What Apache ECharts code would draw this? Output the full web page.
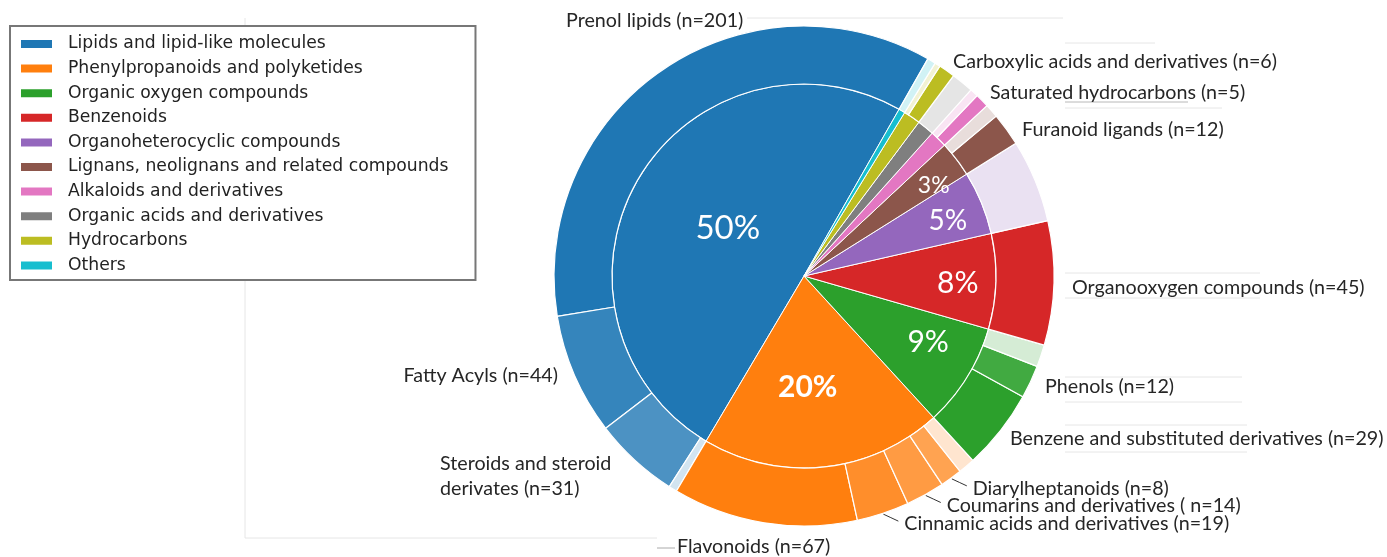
<!DOCTYPE html>
<html>
<head>
<meta charset="utf-8">
<title>Compound classes</title>
<script src="https://cdn.jsdelivr.net/npm/echarts@6/dist/echarts.min.js"></script>
<style>
  html, body { margin: 0; padding: 0; background: #fff; }
  #chart { width: 1387px; height: 557px; }
</style>
</head>
<body>
<div id="chart"></div>
<script>
// superclasses (inner pie)
const classNames = [
  'Lipids and lipid-like molecules',
  'Phenylpropanoids and polyketides',
  'Organic oxygen compounds',
  'Benzenoids',
  'Organoheterocyclic compounds',
  'Lignans, neolignans and related compounds',
  'Alkaloids and derivatives',
  'Organic acids and derivatives',
  'Hydrocarbons',
  'Others'
];
const classColors = ['#1f77b4', '#ff7f0e', '#2ca02c', '#d62728', '#9467bd',
  '#8c564b', '#e377c2', '#7f7f7f', '#bcbd22', '#17becf'];

// subclasses (outer ring), in drawing order
const subNames = [
  'Prenol lipids', 'Fatty Acyls', 'Steroids and steroid derivates', 'Other lipids',
  'Flavonoids', 'Cinnamic acids and derivatives', 'Coumarins and derivatives', 'Diarylheptanoids', 'Other phenylpropanoids',
  'Benzene and substituted derivatives', 'Phenols', 'Other oxygen compounds',
  'Organooxygen compounds',
  'Other organoheterocyclic',
  'Furanoid ligands', 'Other lignans',
  'Saturated hydrocarbons', 'Other alkaloids',
  'Other organic acids',
  'Carboxylic acids and derivatives', 'Other hydrocarbons',
  'Other others'
];
const subValues = [201, 44, 31, 3, 67, 19, 14, 8, 6, 29, 12, 8, 45, 30, 12, 5, 5, 3, 8, 6, 2, 3];
const subClass  = [0, 0, 0, 0, 1, 1, 1, 1, 1, 2, 2, 2, 3, 4, 5, 5, 6, 6, 7, 8, 8, 9];
const subLabels = [
  'Prenol lipids (n=201)', 'Fatty Acyls (n=44)', 'Steroids and steroid\nderivates (n=31)', '',
  'Flavonoids (n=67)', 'Cinnamic acids and derivatives (n=19)', 'Coumarins and derivatives ( n=14)', 'Diarylheptanoids (n=8)', '',
  'Benzene and substituted derivatives (n=29)', 'Phenols (n=12)', '',
  'Organooxygen compounds (n=45)',
  '',
  'Furanoid ligands (n=12)', '',
  'Saturated hydrocarbons (n=5)', '',
  '',
  'Carboxylic acids and derivatives (n=6)', '',
  ''
];

// ---- styling / layout ----
const subAlpha = [1, 0.9, 0.8, 0.2, 1, 0.88, 0.78, 0.72, 0.2, 1, 0.9, 0.2, 1, 0.2, 1, 0.2, 1, 0.2, 0.2, 1, 0.2, 0.2];
const CX = 804, CY = 276, R0 = 192, R1 = 250, START = 60.3;
const pctRadius = [90, 111, 141, 154, 154, 158];
const pctShift = [-2, -4, 3.5, -1, -1.4, -2.7];
const pctSize = [33, 30, 30, 30, 28, 23];
const leaderItems = [5, 6, 7];
// left/right anchor of each outer label: [x, y, align]
const labelPos = {
  0: [566, 21, 'left'],
  1: [558, 376, 'right'],
  2: [440, 476, 'left'],
  4: [677, 547, 'left'],
  9: [1010, 439, 'left'],
  10: [1045, 387, 'left'],
  12: [1072, 288, 'left'],
  14: [1022, 130, 'left'],
  16: [990, 93, 'left'],
  19: [953, 62, 'left']
};

function blend(hex, a) {
  const n = parseInt(hex.slice(1), 16);
  const c = [n >> 16, (n >> 8) & 255, n & 255].map(v => Math.round(v * a + 255 * (1 - a)));
  return 'rgb(' + c.join(',') + ')';
}

const classValues = classNames.map((_, k) =>
  subValues.reduce((s, v, i) => s + (subClass[i] === k ? v : 0), 0));
const total = subValues.reduce((a, b) => a + b, 0);

function midAngles(values) {
  let cum = 0;
  return values.map(v => {
    const m = START + (cum + v / 2) / total * 360;
    cum += v;
    return m;
  });
}
const classMid = midAngles(classValues);
const subMid = midAngles(subValues);

const innerData = classNames.map((name, i) => {
  const pct = classValues[i] / total * 100;
  return {
    name: name,
    value: classValues[i],
    itemStyle: { color: classColors[i] },
    label: {
      show: pct >= 2.5,
      fontSize: pctSize[i] || 20,
      fontWeight: i === 1 ? 'bold' : 'normal'
    }
  };
});

const outerData = subNames.map((name, i) => ({
  name: name,
  value: subValues[i],
  itemStyle: { color: blend(classColors[subClass[i]], subAlpha[i]) },
  label: { show: subLabels[i] !== '' },
  labelLine: { show: leaderItems.indexOf(i) >= 0 }
}));

const faintLines = [
  [245, 18, 245, 538], [245, 538, 657, 538], [747, 18, 1063, 18],
  [1065, 43, 1155, 43], [1065, 108, 1222, 108],
  [1065, 273, 1260, 273], [1065, 298, 1260, 298],
  [1065, 377, 1242, 377], [1065, 402, 1242, 402],
  [1065, 425, 1247, 425], [1065, 452, 1247, 452]
];

const chart = echarts.init(document.getElementById('chart'));
const option = {
  animation: false,
  backgroundColor: '#fff',
  graphic: faintLines.map(l => ({
    type: 'line', silent: true, z: -10,
    shape: { x1: l[0], y1: l[1], x2: l[2], y2: l[3] },
    style: { stroke: '#e6e6e6', lineWidth: 1 }
  })).concat([{
    type: 'line', silent: true, z: -10,
    shape: { x1: 1065, y1: 102, x2: 1188, y2: 102 },
    style: { stroke: '#b8b8b8', lineWidth: 1 }
  }, {
    type: 'line', silent: true, z: -10,
    shape: { x1: 657, y1: 548, x2: 675, y2: 548 },
    style: { stroke: '#aaa', lineWidth: 1 }
  }]),
  legend: {
    data: classNames,
    orient: 'vertical',
    left: 10,
    top: 26,
    icon: 'rect',
    itemWidth: 33,
    itemHeight: 10,
    itemGap: 7.6,
    padding: [9.5, 27, 6, 9],
    borderColor: '#777',
    borderWidth: 2,
    backgroundColor: '#fff',
    selectedMode: false,
    textStyle: { fontFamily: 'DejaVu Sans', fontSize: 17.2, color: '#222', padding: [0, 0, 0, 10] }
  },
  series: [{
    name: 'Superclass',
    type: 'pie',
    center: [CX, CY],
    radius: [0, R0],
    startAngle: START,
    clockwise: false,
    avoidLabelOverlap: false,
    itemStyle: { borderColor: '#fff', borderWidth: 1 },
    label: {
      position: 'inside',
      color: '#fff',
      fontFamily: 'Lato',
      formatter: p => Math.round(p.percent) + '%'
    },
    labelLayout: function (p) {
      const i = p.dataIndex;
      const a = (classMid[i] + (pctShift[i] || 0)) * Math.PI / 180;
      const r = pctRadius[i] || 150;
      return { x: CX + r * Math.cos(a), y: CY - r * Math.sin(a), align: 'center', verticalAlign: 'middle' };
    },
    emphasis: { disabled: true },
    data: innerData
  }, {
    name: 'Subclass',
    type: 'pie',
    center: [CX, CY],
    radius: [R0, R1],
    startAngle: START,
    clockwise: false,
    avoidLabelOverlap: false,
    itemStyle: { borderColor: '#fff', borderWidth: 1.2 },
    label: {
      position: 'outside',
      color: '#262626',
      fontFamily: 'Lato',
      fontSize: 19.7,
      lineHeight: 25,
      overflow: 'none',
      formatter: p => subLabels[p.dataIndex]
    },
    labelLine: { show: false, lineStyle: { color: '#333', width: 1 } },
    labelLayout: function (p) {
      const i = p.dataIndex;
      if (leaderItems.indexOf(i) >= 0) {
        const a = subMid[i] * Math.PI / 180;
        const x0 = CX + (R1 + 1) * Math.cos(a), y0 = CY - (R1 + 1) * Math.sin(a);
        const x1 = x0 + 15, y1 = y0 + 7;
        return {
          x: x1 + 6, y: y1 + 3, align: 'left', verticalAlign: 'middle',
          labelLinePoints: [[x0, y0], [(x0 + x1) / 2, (y0 + y1) / 2], [x1, y1]]
        };
      }
      const pos = labelPos[i];
      if (!pos) return {};
      return { x: pos[0], y: pos[1], align: pos[2], verticalAlign: 'middle' };
    },
    emphasis: { disabled: true },
    data: outerData
  }]
};
chart.setOption(option);
</script>
</body>
</html>
